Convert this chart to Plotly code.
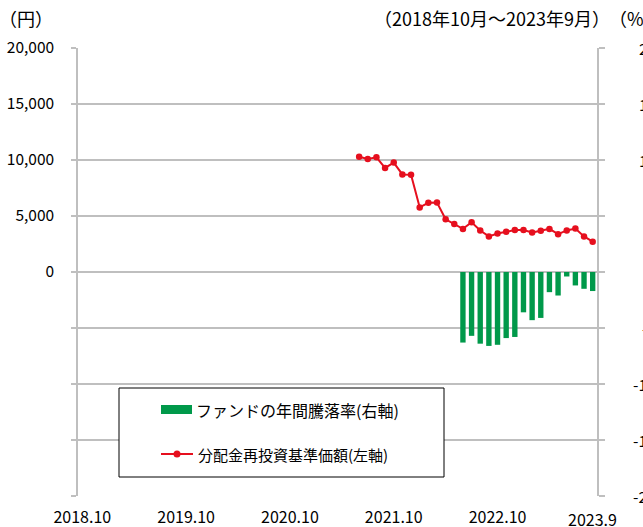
import plotly.graph_objects as go

# ---- data ----
months = []
for y in range(2018, 2024):
    for m in range(1, 13):
        if (y == 2018 and m < 10) or (y == 2023 and m > 9):
            continue
        months.append(f"{y}.{m}")

nav_start = "2021.6"
nav_values = [10290, 10090, 10240, 9290, 9770, 8710, 8680, 5770, 6180, 6210,
              4710, 4290, 3850, 4440, 3710, 3180, 3440, 3590, 3740, 3740,
              3530, 3680, 3850, 3380, 3710, 3880, 3180, 2710]

ret_start = "2022.6"
ret_values = [-6.3, -5.7, -6.4, -6.6, -6.5, -5.9, -5.8, -3.6, -4.3, -4.1,
              -1.8, -2.1, -0.4, -1.2, -1.5, -1.7]

x_tick_labels = ["2018.10", "2019.10", "2020.10", "2021.10", "2022.10"]
x_last_label = "2023.9"
left_tickvals = [-20000, -15000, -10000, -5000, 0, 5000, 10000, 15000, 20000]
left_ticktext = ["", "", "", "", "0", "5,000", "10,000", "15,000", "20,000"]
right_tickvals = [-20, -15, -10, -5, 0, 5, 10, 15, 20]
right_ticktext = ["-20", "-15", "-10", "-5", "0", "5", "10", "15", "20"]

legend_bar = "ファンドの年間騰落率(右軸)"
legend_line = "分配金再投資基準価額(左軸)"
title_left = "（円）"
title_mid = "（2018年10月～2023年9月）"
title_right = "（%）"

# ---- styles ----
W, H = 643, 527
L, R, T, B = 78, 597, 48, 496
FONT = "Noto Sans CJK JP, Noto Sans, sans-serif"
GRID = "#bfbfbf"
GREEN = "#00994a"
RED = "#e60f1e"
TICK_SIZE = 15.5

def px(xp):
    return (xp - L) / (R - L)

def py(yp):
    return (B - yp) / (B - T)

i0 = months.index(nav_start)
nav_x = months[i0:i0 + len(nav_values)]
j0 = months.index(ret_start)
ret_x = months[j0:j0 + len(ret_values)]

fig = go.Figure()
fig.add_trace(go.Bar(x=ret_x, y=ret_values, yaxis="y2", marker_color=GREEN,
                     marker_line_width=0, name=legend_bar, showlegend=False))
fig.add_trace(go.Scatter(x=nav_x, y=nav_values, mode="lines+markers",
                         line=dict(color=RED, width=2),
                         marker=dict(color=RED, size=6.5),
                         name=legend_line, showlegend=False))

fig.update_layout(
    width=W, height=H,
    margin=dict(l=L, r=W - R, t=T, b=H - B, pad=0),
    paper_bgcolor="white", plot_bgcolor="white",
    font=dict(family=FONT, size=15, color="black"),
    bargap=0.38,
    xaxis=dict(type="category", categoryorder="array", categoryarray=months,
               range=[-0.5, len(months) - 0.5], showgrid=False, zeroline=False,
               showline=False, ticks="", tickmode="array", automargin=False,
               tickvals=x_tick_labels, ticktext=x_tick_labels,
               tickfont=dict(size=TICK_SIZE + 0.5), ticklabelstandoff=10),
    yaxis=dict(range=[-20000, 20000], tickmode="array", tickvals=left_tickvals,
               ticktext=left_ticktext, showgrid=True, gridcolor=GRID, gridwidth=1.5,
               zeroline=False, showline=True, linecolor=GRID, linewidth=1.5,
               ticks="outside", ticklen=5, tickcolor=GRID, tickwidth=1.5,
               automargin=False, tickfont=dict(size=TICK_SIZE), ticklabelstandoff=14),
    yaxis2=dict(range=[-20, 20], overlaying="y", side="right", tickmode="array",
                tickvals=right_tickvals, showticklabels=False, showgrid=False,
                zeroline=False, showline=True, linecolor=GRID, linewidth=1.5,
                automargin=False,
                ticks="outside", ticklen=6, tickcolor=GRID, tickwidth=1.5),
)

ann = []
for v, t in zip(right_tickvals, right_ticktext):
    ann.append(dict(x=px(658), y=v, xref="paper", yref="y2", text=t,
                    xanchor="right", yanchor="middle", showarrow=False,
                    font=dict(size=TICK_SIZE)))
ann.append(dict(x=months.index(x_last_label), y=py(519), xref="x", yref="paper",
                text=x_last_label, xanchor="center", yanchor="middle",
                showarrow=False, font=dict(size=TICK_SIZE + 0.5)))
ann.append(dict(x=px(-3), y=py(18), xref="paper", yref="paper", text=title_left,
                xanchor="left", yanchor="middle", showarrow=False, font=dict(size=18)))
ann.append(dict(x=px(612), y=py(18), xref="paper", yref="paper", text=title_mid,
                xanchor="right", yanchor="middle", showarrow=False, font=dict(size=18)))
ann.append(dict(x=px(607), y=py(18), xref="paper", yref="paper", text=title_right,
                xanchor="left", yanchor="middle", showarrow=False, font=dict(size=18)))
ann.append(dict(x=px(194), y=py(410), xref="paper", yref="paper", text=legend_bar,
                xanchor="left", yanchor="middle", showarrow=False, font=dict(size=16)))
ann.append(dict(x=px(196), y=py(454), xref="paper", yref="paper", text=legend_line,
                xanchor="left", yanchor="middle", showarrow=False, font=dict(size=15)))

shapes = [
    dict(type="rect", xref="paper", yref="paper", x0=px(119), x1=px(444),
         y0=py(477), y1=py(388), line=dict(color="black", width=1),
         fillcolor="white", layer="above"),
    dict(type="rect", xref="paper", yref="paper", x0=px(161), x1=px(192),
         y0=py(414), y1=py(405), line=dict(width=0), fillcolor=GREEN, layer="above"),
    dict(type="line", xref="paper", yref="paper", x0=px(161), x1=px(193),
         y0=py(454), y1=py(454), line=dict(color=RED, width=2), layer="above"),
    dict(type="circle", xref="paper", yref="paper", x0=px(173.5), x1=px(180.5),
         y0=py(457.5), y1=py(450.5), line=dict(width=0), fillcolor=RED, layer="above"),
]
fig.update_layout(annotations=ann, shapes=shapes)

fig.write_html("out.html", config={"displayModeBar": False},
               post_script="document.body.style.margin='0';")
